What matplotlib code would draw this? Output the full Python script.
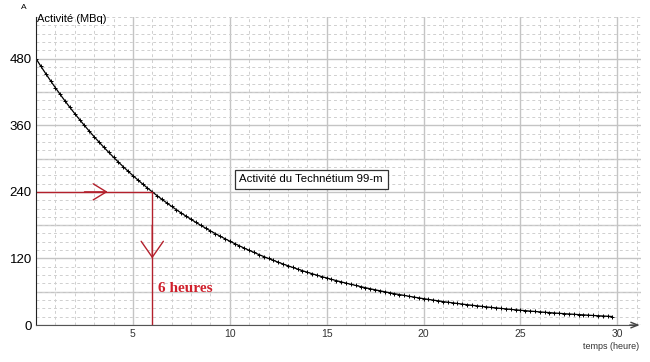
import numpy as np
import matplotlib
matplotlib.use("Agg")
import matplotlib.pyplot as plt
from matplotlib.ticker import MultipleLocator

plt.rcParams['font.family'] = ['Liberation Sans', 'DejaVu Sans']

# activity of Tc-99m (MBq), read every quarter hour
temps = np.arange(0, 30, 0.25)
activite = [
    480.0, 466.3, 453.1, 440.2, 427.6, 415.5, 403.6, 392.1,
    381.0, 370.1, 359.6, 349.4, 339.4, 329.8, 320.4, 311.2,
    302.4, 293.8, 285.4, 277.3, 269.4, 261.7, 254.3, 247.0,
    240.0, 233.2, 226.5, 220.1, 213.8, 207.7, 201.8, 196.1,
    190.5, 185.1, 179.8, 174.7, 169.7, 164.9, 160.2, 155.6,
    151.2, 146.9, 142.7, 138.6, 134.7, 130.9, 127.1, 123.5,
    120.0, 116.6, 113.3, 110.0, 106.9, 103.9, 100.9, 98.0,
    95.2, 92.5, 89.9, 87.3, 84.9, 82.4, 80.1, 77.8,
    75.6, 73.5, 71.4, 69.3, 67.4, 65.4, 63.6, 61.8,
    60.0, 58.3, 56.6, 55.0, 53.5, 51.9, 50.5, 49.0,
    47.6, 46.3, 45.0, 43.7, 42.4, 41.2, 40.1, 38.9,
    37.8, 36.7, 35.7, 34.7, 33.7, 32.7, 31.8, 30.9,
    30.0, 29.2, 28.3, 27.5, 26.7, 26.0, 25.2, 24.5,
    23.8, 23.1, 22.5, 21.8, 21.2, 20.6, 20.0, 19.5,
    18.9, 18.4, 17.8, 17.3, 16.8, 16.4, 15.9, 15.4,
]
x_ticks = [5, 10, 15, 20, 25, 30]
y_ticks = [0, 120, 240, 360, 480]

t_demi = 6
a_demi = 240

fig = plt.figure(figsize=(6.5, 3.62), dpi=100)
ax = fig.add_axes([0.0554, 0.102, 0.93, 0.851])
ax.set_xlim(0, 31.2)
ax.set_ylim(0, 555)

# grid
ax.xaxis.set_major_locator(MultipleLocator(5))
ax.xaxis.set_minor_locator(MultipleLocator(1))
ax.yaxis.set_major_locator(MultipleLocator(60))
ax.yaxis.set_minor_locator(MultipleLocator(15))
ax.grid(which='major', color='#c4c4c4', lw=1.0, ls='-')
ax.grid(which='minor', color='#cfcfcf', lw=0.7, ls=(0, (3, 3)))
ax.set_axisbelow(True)
ax.set_xticks(x_ticks)
ax.set_yticks(y_ticks)
for v in range(60, 540, 120):
    ax.axhline(v, color='#c4c4c4', lw=1.0, zorder=0)
ax.tick_params(which='both', length=0)
ax.tick_params(axis='x', labelsize=7.5, pad=3, colors='#333333')
ax.tick_params(axis='y', labelsize=9.5, pad=3)

for s in ['top', 'right']:
    ax.spines[s].set_visible(False)
ax.spines['left'].set_color('#222222')
ax.spines['bottom'].set_color('#555555')
ax.spines['bottom'].set_bounds(0, 31.0)

# x axis arrow
ax.annotate('', xy=(31.3, 0), xytext=(30.5, 0),
            arrowprops=dict(arrowstyle='->,head_length=0.5,head_width=0.2',
                            color='#444444', lw=1), annotation_clip=False)

# curve
ax.plot(temps, activite, color='black', lw=0.9, marker='+', ms=3.5, mew=0.7)

# half-life construction
red = '#b3202c'
ax.plot([0, t_demi], [a_demi, a_demi], color=red, lw=1.0)
ax.plot([t_demi, t_demi], [a_demi, 0], color=red, lw=1.0)
ax.annotate('', xy=(3.7, a_demi), xytext=(2.5, a_demi),
            arrowprops=dict(arrowstyle='->,head_length=0.95,head_width=0.58',
                            color=red, lw=1.0, shrinkA=0, shrinkB=0))
ax.annotate('', xy=(t_demi, 120), xytext=(t_demi, 180),
            arrowprops=dict(arrowstyle='->,head_length=1.15,head_width=0.8',
                            color=red, lw=1.0, shrinkA=0, shrinkB=0))
ax.text(6.3, 66, '6 heures', color='#d0202c', fontsize=11, fontweight='bold',
        family=['Liberation Serif', 'DejaVu Serif'], va='center', ha='left')

# labels
ax.text(10.5, 263, 'Activité du Technétium 99-m', fontsize=8.2, va='center', ha='left',
        bbox=dict(boxstyle='square,pad=0.4', fc='white', ec='#333333', lw=0.9))
ax.text(0.05, 552, 'Activité (MBq)', fontsize=8, va='center', ha='left')
fig.text(0.032, 0.978, 'A', fontsize=6, va='center', ha='left')
fig.text(0.984, 0.044, 'temps (heure)', fontsize=6.5, va='center', ha='right',
         color='#333333')

fig.savefig('out.png', dpi=100)
